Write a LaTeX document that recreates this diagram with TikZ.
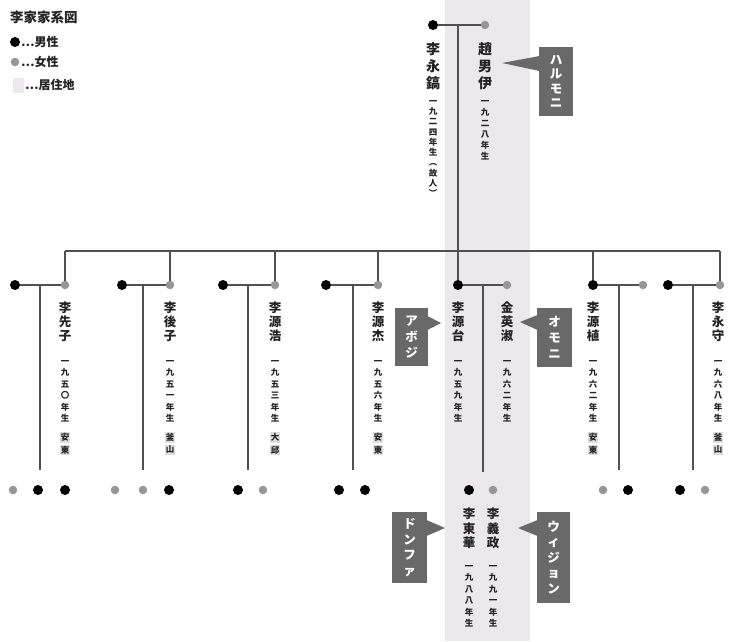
\documentclass[tikz,border=0pt]{standalone}
\usepackage{fontspec}
\setmainfont{Noto Sans CJK JP}
\definecolor{bandc}{RGB}{236,233,237}
\definecolor{linec}{RGB}{80,80,80}
\definecolor{femc}{RGB}{150,150,150}
\definecolor{callc}{RGB}{105,105,105}
\definecolor{txtc}{RGB}{35,35,35}
\definecolor{placebg}{RGB}{222,222,222}
\makeatletter
\newcommand\vt[2]{\vbox{\baselineskip=#1\relax\lineskiplimit=-30pt\lineskip=0pt\@tfor\vch:=#2\do{\hbox to 1em{\hss\vch\hss}}}}
\newcommand\vplace[1]{\vbox{\baselineskip=0pt\lineskiplimit=0pt\lineskip=2pt\fboxsep=1.2pt\@tfor\vch:=#1\do{\hbox{\colorbox{placebg}{\vch}}}}}
\makeatother
\tikzset{
  lin/.style={draw=linec, line width=1.4pt},
  mdot/.style={circle, fill=black, minimum size=10pt, inner sep=0pt},
  fdot/.style={circle, fill=femc, minimum size=8.5pt, inner sep=0pt},
  topname/.style={anchor=north, inner sep=0pt, text=txtc, font=\fontsize{14}{17}\selectfont\bfseries},
  vname/.style={anchor=north, inner sep=0pt, text=txtc, font=\fontsize{12.5}{14}\selectfont\bfseries},
  vdate/.style={anchor=north, inner sep=0pt, text=txtc, font=\fontsize{8.5}{11}\selectfont\bfseries},
  vplc/.style={anchor=north, inner sep=0pt, text=txtc, font=\fontsize{8.5}{11}\selectfont\bfseries},
  callbox/.style={fill=callc, inner sep=0pt, text=white, font=\fontsize{12.5}{15}\selectfont\bfseries},
  legtext/.style={anchor=west, inner sep=0pt, text=txtc, font=\fontsize{12}{14}\selectfont\bfseries}
}
\begin{document}
\begin{tikzpicture}[x=1pt,y=-1pt]
\useasboundingbox (0,0) rectangle (731,641);
\fill[white] (0,0) rectangle (731,641);
% residence band
\fill[bandc] (445,0) rectangle (530,641);

% legend
\node[anchor=west, inner sep=0pt, text=txtc, font=\fontsize{13.5}{15}\selectfont\bfseries] (ltitle) at (10,17) {李家家系図};
\node[mdot] (lm) at (15,42) {};
\node[legtext] (lmt) at (21,42) {…男性};
\node[fdot] (lf) at (15,62) {};
\node[legtext] (lft) at (21,62) {…女性};
\node[fill=bandc, minimum width=11pt, minimum height=15pt, inner sep=0pt] (lb) at (18,85) {};
\node[legtext] (lbt) at (25,85) {…居住地};

% grandparents
\node[mdot] (gm) at (433,25) {};
\node[fdot] (gf) at (485,25) {};
\draw[lin] (gm) -- (gf);
\coordinate (gs) at (458,25);
\node[topname] (gmn) at (433,42) {\vt{17pt}{李永鎬}};
\node[vdate] (gmd) at (433,100) {\vt{10.3pt}{一九二四年生︵故人︶}};
\node[topname] (gfn) at (485,42) {\vt{17pt}{趙男伊}};
\node[vdate] (gfd) at (485,100) {\vt{11pt}{一九二八年生}};

% children couples
\node[mdot] (m1) at (15,285) {};  \node[fdot] (f1) at (65,285) {};
\node[mdot] (m2) at (122,285) {}; \node[fdot] (f2) at (170,285) {};
\node[mdot] (m3) at (223,285) {}; \node[fdot] (f3) at (275,285) {};
\node[mdot] (m4) at (326,285) {}; \node[fdot] (f4) at (378,285) {};
\node[mdot] (m5) at (458,285) {}; \node[fdot] (f5) at (507,285) {};
\node[mdot] (m6) at (593,285) {}; \node[fdot] (f6) at (643,285) {};
\node[mdot] (m7) at (668,285) {}; \node[fdot] (f7) at (720,285) {};
\foreach \i in {1,...,7} {\draw[lin] (m\i) -- (f\i);}

% main sibling line
\coordinate (t1) at (65,251);
\coordinate (t2) at (170,251);
\coordinate (t3) at (275,251);
\coordinate (t4) at (378,251);
\coordinate (t6) at (593,251);
\coordinate (t7) at (720,251);
\draw[lin] (t1) -- (t7);
\draw[lin] (t1) -- (f1);
\draw[lin] (t2) -- (f2);
\draw[lin] (t3) -- (f3);
\draw[lin] (t4) -- (f4);
\draw[lin] (t6) -- (m6);
\draw[lin] (t7) -- (f7);
\draw[lin] (gs) -- (m5);

% stems to grandchildren
\coordinate (s1) at (40,285);  \coordinate (e1) at (40,470);
\coordinate (s2) at (143,285); \coordinate (e2) at (143,470);
\coordinate (s3) at (248,285); \coordinate (e3) at (248,470);
\coordinate (s4) at (353,285); \coordinate (e4) at (353,470);
\coordinate (s5) at (483,285); \coordinate (e5) at (483,472);
\coordinate (s6) at (619,285); \coordinate (e6) at (619,470);
\coordinate (s7) at (693,285); \coordinate (e7) at (693,470);
\foreach \i in {1,...,7} {\draw[lin] (s\i) -- (e\i);}

% children texts
\node[vname] (n1) at (65,302) {\vt{14pt}{李先子}};
\node[vdate] (d1) at (65,360) {\vt{11.5pt}{一九五〇年生}};
\node[vplc] (p1) at (65,432) {\vplace{安東}};
\node[vname] (n2) at (170,302) {\vt{14pt}{李後子}};
\node[vdate] (d2) at (170,360) {\vt{11.5pt}{一九五一年生}};
\node[vplc] (p2) at (170,432) {\vplace{釜山}};
\node[vname] (n3) at (275,302) {\vt{14pt}{李源浩}};
\node[vdate] (d3) at (275,360) {\vt{11.5pt}{一九五三年生}};
\node[vplc] (p3) at (275,432) {\vplace{大邱}};
\node[vname] (n4) at (378,302) {\vt{14pt}{李源杰}};
\node[vdate] (d4) at (378,360) {\vt{11.5pt}{一九五六年生}};
\node[vplc] (p4) at (378,432) {\vplace{安東}};
\node[vname] (n5) at (458,302) {\vt{14pt}{李源台}};
\node[vdate] (d5) at (458,360) {\vt{11.5pt}{一九五九年生}};
\node[vname] (n6) at (507,302) {\vt{14pt}{金英淑}};
\node[vdate] (d6) at (507,360) {\vt{11.5pt}{一九六二年生}};
\node[vname] (n7) at (593,302) {\vt{14pt}{李源植}};
\node[vdate] (d7) at (593,360) {\vt{11.5pt}{一九六二年生}};
\node[vplc] (p7) at (593,432) {\vplace{安東}};
\node[vname] (n8) at (718,302) {\vt{14pt}{李永守}};
\node[vdate] (d8) at (718,360) {\vt{11.5pt}{一九六八年生}};
\node[vplc] (p8) at (718,432) {\vplace{釜山}};

% grandchildren dots
\node[fdot] (g11) at (13,490) {};  \node[mdot] (g12) at (38,490) {};  \node[mdot] (g13) at (65,490) {};
\node[fdot] (g21) at (115,490) {}; \node[fdot] (g22) at (143,490) {}; \node[mdot] (g23) at (169,490) {};
\node[mdot] (g31) at (238,490) {}; \node[fdot] (g32) at (263,490) {};
\node[mdot] (g41) at (339,490) {}; \node[mdot] (g42) at (365,490) {};
\node[mdot] (g51) at (469,490) {}; \node[fdot] (g52) at (493,490) {};
\node[fdot] (g61) at (603,490) {}; \node[mdot] (g62) at (628,490) {};
\node[mdot] (g71) at (680,490) {}; \node[fdot] (g72) at (705,490) {};

% grandchildren texts
\node[vname] (gn1) at (469,508) {\vt{14.5pt}{李東華}};
\node[vdate] (gd1) at (469,565) {\vt{11.5pt}{一九八八年生}};
\node[vname] (gn2) at (493,508) {\vt{14.5pt}{李義政}};
\node[vdate] (gd2) at (493,565) {\vt{11.5pt}{一九九一年生}};

% callouts
\node[callbox, minimum width=34pt, minimum height=69pt] (c1) at (556,81.5) {\vt{14.5pt}{ハルモニ}};
\coordinate (c1t) at (502,63);
\fill[callc] (539.5,56) -- (c1t) -- (539.5,71) -- cycle;

\node[callbox, minimum width=33pt, minimum height=58pt] (c2) at (411.5,337) {\vt{16pt}{アボジ}};
\coordinate (c2t) at (441,323);
\fill[callc] (427.5,316) -- (c2t) -- (427.5,330) -- cycle;

\node[callbox, minimum width=35pt, minimum height=59pt] (c3) at (554.5,337.5) {\vt{16pt}{オモニ}};
\coordinate (c3t) at (520,322);
\fill[callc] (537.5,315) -- (c3t) -- (537.5,330) -- cycle;

\node[callbox, minimum width=35pt, minimum height=71pt] (c4) at (409.5,547.5) {\vt{15.5pt}{ドンファ}};
\coordinate (c4t) at (445,528);
\fill[callc] (426.5,520) -- (c4t) -- (426.5,536) -- cycle;

\node[callbox, minimum width=33pt, minimum height=91pt] (c5) at (553.5,557.5) {\vt{15.5pt}{ウィジョン}};
\coordinate (c5t) at (518,528);
\fill[callc] (537.5,520) -- (c5t) -- (537.5,536) -- cycle;
\end{tikzpicture}
\end{document}
